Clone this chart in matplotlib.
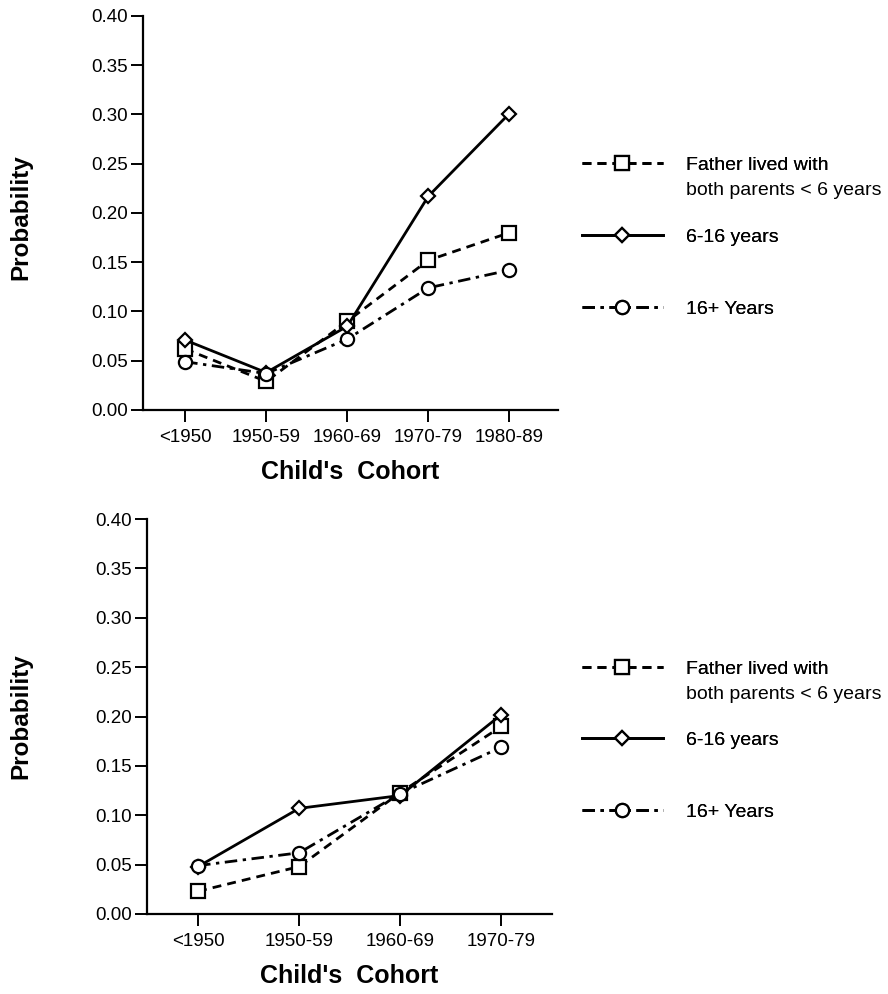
import numpy as np
import matplotlib.pyplot as plt

plt.rcParams['font.family'] = ['Liberation Sans', 'DejaVu Sans']

# panel 1
cohorts_top = ['<1950', '1950-59', '1960-69', '1970-79', '1980-89']
lt6_top = [0.062, 0.029, 0.090, 0.152, 0.180]
y6_16_top = [0.071, 0.038, 0.085, 0.217, 0.301]
y16p_top = [0.049, 0.037, 0.072, 0.124, 0.142]

# panel 2
cohorts_bot = ['<1950', '1950-59', '1960-69', '1970-79']
lt6_bot = [0.023, 0.048, 0.123, 0.190]
y6_16_bot = [0.048, 0.107, 0.120, 0.202]
y16p_bot = [0.049, 0.062, 0.122, 0.169]

labels = ['Father lived with', '6-16 years', '16+ Years']
label2 = 'both parents < 6 years'
yticks = np.arange(0, 0.401, 0.05)

styles = [
    dict(ls=(0, (3.2, 2.2)), marker='s', ms=9.5),
    dict(ls='-', marker='D', ms=7),
    dict(ls=(0, (4.5, 2, 1.2, 2)), marker='o', ms=9.5),
]

fig = plt.figure(figsize=(8.88, 9.94), dpi=100)
ax1 = fig.add_axes([143/888, 1-410/994, 415/888, 394/994])
ax2 = fig.add_axes([147/888, 1-914/994, 405/888, 395/994])

panels = [
    (ax1, cohorts_top, [lt6_top, y6_16_top, y16p_top], (-0.52, 4.6), -0.294, 0.49, [165, 237, 309]),
    (ax2, cohorts_bot, [lt6_bot, y6_16_bot, y16p_bot], (-0.505, 3.5), -0.311, 0.5, [669, 740, 812]),
]

legs = []
for ax, cats, series, xl, ylab_x, ylab_y, leg_y in panels:
    x = np.arange(len(cats))
    handles = []
    for vals, st in zip(series, styles):
        ln, = ax.plot(x, vals, color='black', lw=2.0, linestyle=st['ls'],
                      marker=st['marker'], ms=st['ms'], mfc='white', mec='black',
                      mew=1.6)
        handles.append(ln)
    ax.set_xlim(*xl)
    ax.set_ylim(0, 0.40)
    ax.set_xticks(x)
    ax.set_xticklabels(cats, fontsize=13.5)
    ax.set_yticks(yticks)
    ax.set_yticklabels(['%.2f' % v for v in yticks], fontsize=13.5)
    for s in ['top', 'right']:
        ax.spines[s].set_visible(False)
    for s in ['left', 'bottom']:
        ax.spines[s].set_linewidth(1.6)
    ax.tick_params(direction='out', length=8.5, width=1.4, pad=2.5)
    ax.tick_params(axis='x', pad=5)
    ax.set_xlabel("Child's  Cohort", fontsize=18, fontweight='bold', labelpad=10)
    ax.set_ylabel('Probability', fontsize=17.5, fontweight='bold', va='center', ha='center')
    ax.yaxis.set_label_coords(ylab_x, ylab_y)

    # one small legend per entry so the rows sit where the original has them
    for h, lab, yp in zip(handles, labels, leg_y):
        lg = fig.legend([h], [lab], loc='center left',
                        bbox_to_anchor=(582/888, 1-yp/994), frameon=False,
                        fontsize=14, handlelength=4.15, handletextpad=1.2,
                        borderpad=0, borderaxespad=0)
        fig.add_artist(lg)
        legs.append(lg)

# second line of the first legend label, under the first line
fig.canvas.draw()
for lg in legs[0::3]:
    bb = lg.get_texts()[0].get_window_extent()
    fig.text(bb.x0 / fig.bbox.width, (bb.y0 + bb.y1) / 2 / fig.bbox.height - 25/994,
             label2, fontsize=14, va='center', ha='left')

fig.savefig('out.png', dpi=100)
